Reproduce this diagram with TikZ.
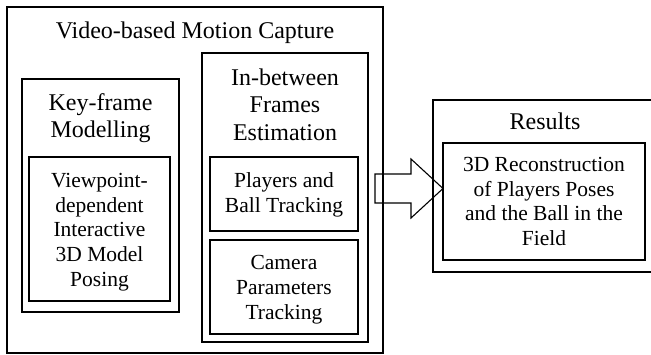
\documentclass[tikz,border=0pt]{standalone}
\usepackage{fontspec}
\setmainfont{Liberation Serif}
\begin{document}
\begin{tikzpicture}[x=1pt,y=-1pt,
  outerbox/.style={draw, line width=1.3pt, inner sep=0pt, rectangle},
  innerbox/.style={draw, line width=1.7pt, inner sep=0pt, rectangle},
  headtext/.style={anchor=base, align=center, inner sep=0pt, font=\fontsize{24}{27.5}\selectfont},
  bodytext/.style={anchor=base, align=center, inner sep=0pt, font=\fontsize{21.5}{24.6}\selectfont},
  blockarrow/.style={draw, line width=1.1pt, line join=miter}]
\useasboundingbox (0,0) rectangle (651,354);
% boxes
\node[outerbox, minimum width=376pt, minimum height=346pt] (outer) at (195,180) {};
\node[outerbox, minimum width=157pt, minimum height=233pt] (keyframe) at (100.5,195.5) {};
\node[innerbox, minimum width=141pt, minimum height=144pt] (viewpoint) at (99.5,229) {};
\node[outerbox, minimum width=166pt, minimum height=289pt] (inbetween) at (285,197.5) {};
\node[innerbox, minimum width=148pt, minimum height=74pt] (players) at (284,194) {};
\node[innerbox, minimum width=148pt, minimum height=94pt] (camera) at (284,287) {};
\node[outerbox, minimum width=223pt, minimum height=172pt] (results) at (544.5,186) {};
\node[innerbox, minimum width=202pt, minimum height=117pt] (recon) at (544,201.5) {};
% texts (anchor = baseline of the last line)
\node[headtext] (t-outer) at (195,38) {Video-based Motion Capture};
\node[headtext] (t-keyframe) at (100.5,137.5) {Key-frame\\Modelling};
\node[bodytext] (t-viewpoint) at (99.5,286) {Viewpoint-\\dependent\\Interactive\\3D Model\\Posing};
\node[headtext] (t-inbetween) at (285,140) {In-between\\Frames\\Estimation};
\node[bodytext] (t-players) at (284,212) {Players and\\Ball Tracking};
\node[bodytext] (t-camera) at (284,319) {Camera\\Parameters\\Tracking};
\node[headtext] (t-results) at (545,129) {Results};
\node[bodytext] (t-recon) at (544,245.5) {3D Reconstruction\\of Players Poses\\and the Ball in the\\Field};
% block arrow
\coordinate (tip) at (443,188.5);
\draw[blockarrow] (375,174) -- (411,174) -- (411,159) -- (tip) -- (411,218) -- (411,203) -- (375,203) -- cycle;
\end{tikzpicture}
\end{document}
